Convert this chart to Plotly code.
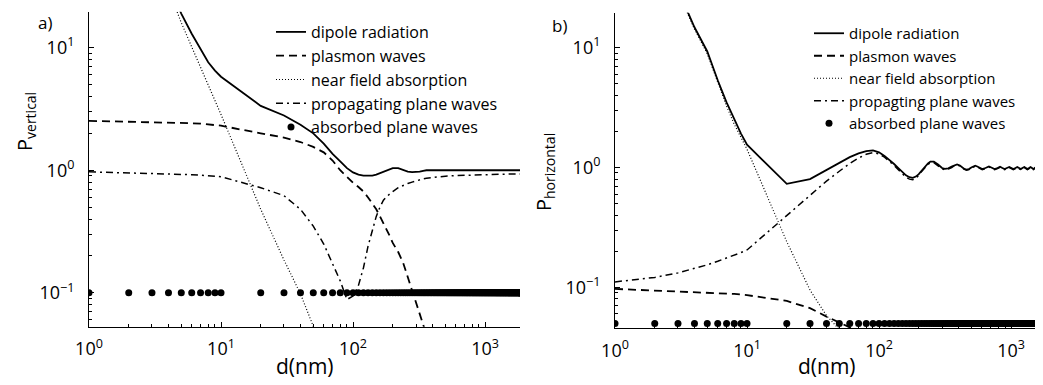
import plotly.graph_objects as go

# ---------------- data ----------------
# x grids (nm)
d_left = [1, 2, 3, 4, 5, 6, 7, 8, 9, 10, 20, 30, 40, 50, 60, 70, 80, 90, 100, 110, 120, 130,
          140, 150, 160, 170, 180, 190, 200, 220, 240, 260, 280, 300, 320, 340, 360, 400,
          450, 500, 600, 700, 800, 1000, 1200, 1500, 2000]
d_short = [1, 2, 3, 4, 5, 6, 7, 8, 9, 10, 20, 30, 40, 50, 60, 70, 80, 90, 100, 150, 200,
           300, 500, 1000, 2000]
d_right = [1, 2, 3, 4, 5, 6, 7, 8, 9, 10, 20, 30, 40, 50, 60, 70, 80, 90,
           100, 110, 120, 130, 140, 150, 160, 170, 180, 190, 200, 210, 220,
           235, 245, 260, 280, 300, 315, 335, 355, 370, 390, 410, 425, 445, 460, 480,
           500, 515, 535, 555, 570, 590, 605,
           640, 680, 715, 750, 790, 825, 860, 895, 930, 970, 1005, 1040, 1080, 1115,
           1150, 1185, 1220, 1260, 1295, 1330, 1370, 1405, 1440, 1475, 1510, 1550,
           1585, 1620, 1660, 1695, 1730, 1765, 1800]
d_dots = list(range(1, 11)) + list(range(20, 100, 10)) + list(range(100, 2001, 10))

# panel a) vertical dipole
vert_dipole = [905, 165, 63, 33, 19, 13, 9.8, 7.6, 6.5, 5.8, 3.35, 2.8, 2.35, 2.0, 1.65, 1.36,
               1.18, 1.04, 0.96, 0.92, 0.905, 0.9, 0.905, 0.92, 0.945, 0.97, 0.995, 1.02, 1.04,
               1.04, 1.0, 0.975, 0.965, 0.965, 0.975, 0.99, 1.0, 1.0, 1.0, 1.0, 1.0, 1.0, 1.0,
               1.0, 1.0, 1.0, 1.0]
vert_plasmon = [2.53, 2.5, 2.48, 2.46, 2.44, 2.42, 2.4, 2.37, 2.34, 2.31, 2.0, 1.85, 1.7, 1.55,
                1.4, 1.2, 1.0, 0.88, 0.79, 0.73, 0.67, 0.6, 0.54, 0.48, 0.42, 0.37, 0.33, 0.29,
                0.255, 0.215, 0.175, 0.135, 0.105, 0.085, 0.069, 0.057, 0.047, 0.032, 0.02,
                0.012, 0.005, 0.002, 0.001, 0.0005, 0.0003, 0.0002, 0.0001]
vert_nearfield = [900, 160, 59, 30, 16, 10.2, 6.9, 5.0, 3.75, 2.85, 0.48, 0.185, 0.098, 0.052,
                  0.032, 0.021, 0.015, 0.011, 0.008, 0.003, 0.0015, 0.0005, 0.0001, 0.00002,
                  0.000005]
vert_propagating = [0.97, 0.955, 0.945, 0.94, 0.93, 0.92, 0.91, 0.9, 0.89, 0.885, 0.72, 0.62,
                    0.48, 0.35, 0.25, 0.175, 0.125, 0.088, 0.094, 0.115, 0.16, 0.24, 0.33, 0.42,
                    0.5, 0.57, 0.61, 0.645, 0.67, 0.72, 0.755, 0.78, 0.8, 0.82, 0.835, 0.85,
                    0.86, 0.875, 0.885, 0.895, 0.905, 0.91, 0.915, 0.92, 0.925, 0.93, 0.93]
vert_absorbed = [0.1] * len(d_dots)

# panel b) horizontal dipole
hor_dipole = [480, 84, 30.5, 14.8, 9.3, 5.35, 3.5, 2.5, 1.92, 1.55, 0.73, 0.8, 0.95, 1.1, 1.22,
              1.31, 1.37, 1.39, 1.34, 1.25, 1.16, 1.07, 0.99, 0.92, 0.86, 0.83, 0.82, 0.84,
              0.88, 0.94, 1.0, 1.08, 1.12, 1.12, 1.06, 0.99, 0.975, 0.985, 1.02, 1.04, 1.06,
              1.04, 1.0, 0.97, 0.96, 0.97, 1.0, 1.02, 1.035, 1.02, 1.0, 0.975, 0.97,
              0.99, 1.02, 0.995, 0.97, 0.99, 1.015, 0.99, 0.97, 0.99, 1.01, 0.99, 0.97, 0.99,
              1.01, 0.99, 0.97, 0.99, 1.01, 0.99, 0.97, 0.99, 1.01, 0.99, 0.97, 0.99, 1.01,
              0.99, 0.97, 0.99, 1.01, 0.99, 0.97, 0.99]
hor_plasmon = [0.097, 0.094, 0.093, 0.092, 0.091, 0.09, 0.089, 0.088, 0.087, 0.086, 0.077,
               0.067, 0.057, 0.051, 0.047, 0.043, 0.04, 0.037, 0.034, 0.022, 0.013, 0.005,
               0.001, 0.0002, 0.0001]
hor_nearfield = [470, 82, 29.5, 14.3, 8.9, 5.05, 3.25, 2.3, 1.77, 1.42, 0.24, 0.095, 0.058,
                 0.045, 0.036, 0.03, 0.025, 0.021, 0.018, 0.008, 0.004, 0.0012, 0.0003,
                 0.00005, 0.00001]
hor_propagating = [0.111, 0.121, 0.132, 0.143, 0.154, 0.165, 0.175, 0.185, 0.195, 0.205, 0.4,
                   0.59, 0.77, 0.93, 1.08, 1.2, 1.29, 1.33, 1.3, 1.22, 1.13, 1.04, 0.96, 0.89,
                   0.83, 0.8, 0.79, 0.81, 0.86, 0.92, 0.98, 1.06, 1.1, 1.1, 1.04, 0.975, 0.96,
                   0.97, 1.0, 1.03, 1.05, 1.03, 0.99, 0.96, 0.95, 0.96, 0.99, 1.01, 1.025,
                   1.01, 0.99, 0.965, 0.96,
                   0.98, 1.01, 0.985, 0.96, 0.98, 1.005, 0.98, 0.96, 0.98, 1.0, 0.98, 0.96,
                   0.98, 1.0, 0.98, 0.96, 0.98, 1.0, 0.98, 0.96, 0.98, 1.0, 0.98, 0.96, 0.98,
                   1.0, 0.98, 0.96, 0.98, 1.0, 0.98, 0.96, 0.98]
hor_absorbed = [0.05] * len(d_dots)

names_left = ["dipole radiation", "plasmon waves", "near field absorption",
              "propagating plane waves", "absorbed plane waves"]
names_right = ["dipole radiation", "plasmon waves", "near field absorption",
               "propagting plane waves", "absorbed plane waves"]

x_tickvals = [1, 10, 100, 1000]
x_ticktext = ["10<sup>0</sup>", "10<sup>1</sup>", "10<sup>2</sup>", "10<sup>3</sup>"]
y_tickvals = [0.1, 1, 10]
y_ticktext = ["10<sup>−1</sup>", "10<sup>0</sup>", "10<sup>1</sup>"]

# ---------------- figure ----------------
PAGE_W, PAGE_H = 1043, 385
OFF = 8                      # default body margin of the html page
W, H = PAGE_W - OFF, PAGE_H - OFF
FONT = "Open Sans"

fig = go.Figure()

styles = [
    dict(mode="lines", line=dict(color="black", width=1.8)),
    dict(mode="lines", line=dict(color="black", width=1.8, dash="8px,5px")),
    dict(mode="lines", line=dict(color="black", width=1.2, dash="1px,2px")),
    dict(mode="lines", line=dict(color="black", width=1.5, dash="7px,4px,2px,4px")),
    dict(mode="markers", marker=dict(color="black", size=7, symbol="circle")),
]

left_series = [(d_left, vert_dipole), (d_left, vert_plasmon), (d_short, vert_nearfield),
               (d_left, vert_propagating), (d_dots, vert_absorbed)]
right_series = [(d_right, hor_dipole), (d_short, hor_plasmon), (d_short, hor_nearfield),
                (d_right, hor_propagating), (d_dots, hor_absorbed)]

for i, ((xs, ys), name, st) in enumerate(zip(left_series, names_left, styles)):
    fig.add_trace(go.Scatter(x=xs, y=ys, name=name, xaxis="x", yaxis="y",
                             legend="legend", legendgroup="L%d" % i, **st))
for i, ((xs, ys), name, st) in enumerate(zip(right_series, names_right, styles)):
    fig.add_trace(go.Scatter(x=xs, y=ys, name=name, xaxis="x2", yaxis="y2",
                             legend="legend2", legendgroup="R%d" % i, **st))


def px_x(p):
    return (p - OFF) / W


def px_y(p):
    return 1 - (p - OFF) / H


common = dict(type="log", showline=True, linecolor="black", linewidth=1, mirror=False,
              ticks="inside", ticklen=5, tickcolor="black", showgrid=False, zeroline=False,
              tickmode="array", automargin=False,
              tickfont=dict(size=18, family=FONT, color="black"),
              minor=dict(ticks="inside", ticklen=3, tickcolor="black", dtick="D1",
                         showgrid=False))
common_x = dict(tickvals=x_tickvals, ticktext=x_ticktext, ticklabelstandoff=6, **common)
common_y = dict(tickvals=y_tickvals, ticktext=y_ticktext, ticklabelstandoff=10, **common)

fig.update_layout(
    width=W, height=H,
    margin=dict(l=0, r=0, t=0, b=0, autoexpand=False),
    paper_bgcolor="white", plot_bgcolor="white",
    font=dict(family=FONT, color="black"),
    xaxis=dict(domain=[px_x(89), px_x(520)], range=[0, 3.265], anchor="y", **common_x),
    yaxis=dict(domain=[px_y(326.7), px_y(11.7)], range=[-1.277, 1.294], anchor="x", **common_y),
    xaxis2=dict(domain=[px_x(615), 1.0], range=[0, 3.242], anchor="y2", **common_x),
    yaxis2=dict(domain=[px_y(328.3), px_y(12.7)], range=[-1.342, 1.292], anchor="x2",
                **common_y),
    legend=dict(x=px_x(271), y=px_y(15), xanchor="left", yanchor="top",
                bgcolor="rgba(0,0,0,0)", font=dict(size=16, family=FONT, color="black"),
                tracegroupgap=0, itemwidth=30),
    legend2=dict(x=px_x(809), y=px_y(17), xanchor="left", yanchor="top",
                 bgcolor="rgba(0,0,0,0)", font=dict(size=15, family=FONT, color="black"),
                 tracegroupgap=0, itemwidth=30),
    showlegend=True,
)

ann = [
    dict(text="a)", x=px_x(45), y=px_y(23), size=17, angle=0),
    dict(text="b)", x=px_x(559), y=px_y(25), size=17, angle=0),
    dict(text="P<sub>vertical</sub>", x=px_x(26), y=px_y(122), size=20, angle=-90),
    dict(text="P<sub>horizontal</sub>", x=px_x(544), y=px_y(172), size=20, angle=-90),
    dict(text="d(nm)", x=px_x(305), y=px_y(366), size=21, angle=0),
    dict(text="d(nm)", x=px_x(827), y=px_y(366), size=21, angle=0),
]
for a in ann:
    fig.add_annotation(text=a["text"], x=a["x"], y=a["y"], xref="paper", yref="paper",
                       xanchor="center", yanchor="middle", showarrow=False,
                       textangle=a["angle"], font=dict(size=a["size"], family=FONT,
                                                       color="black"))

fig.write_html("out.html")
